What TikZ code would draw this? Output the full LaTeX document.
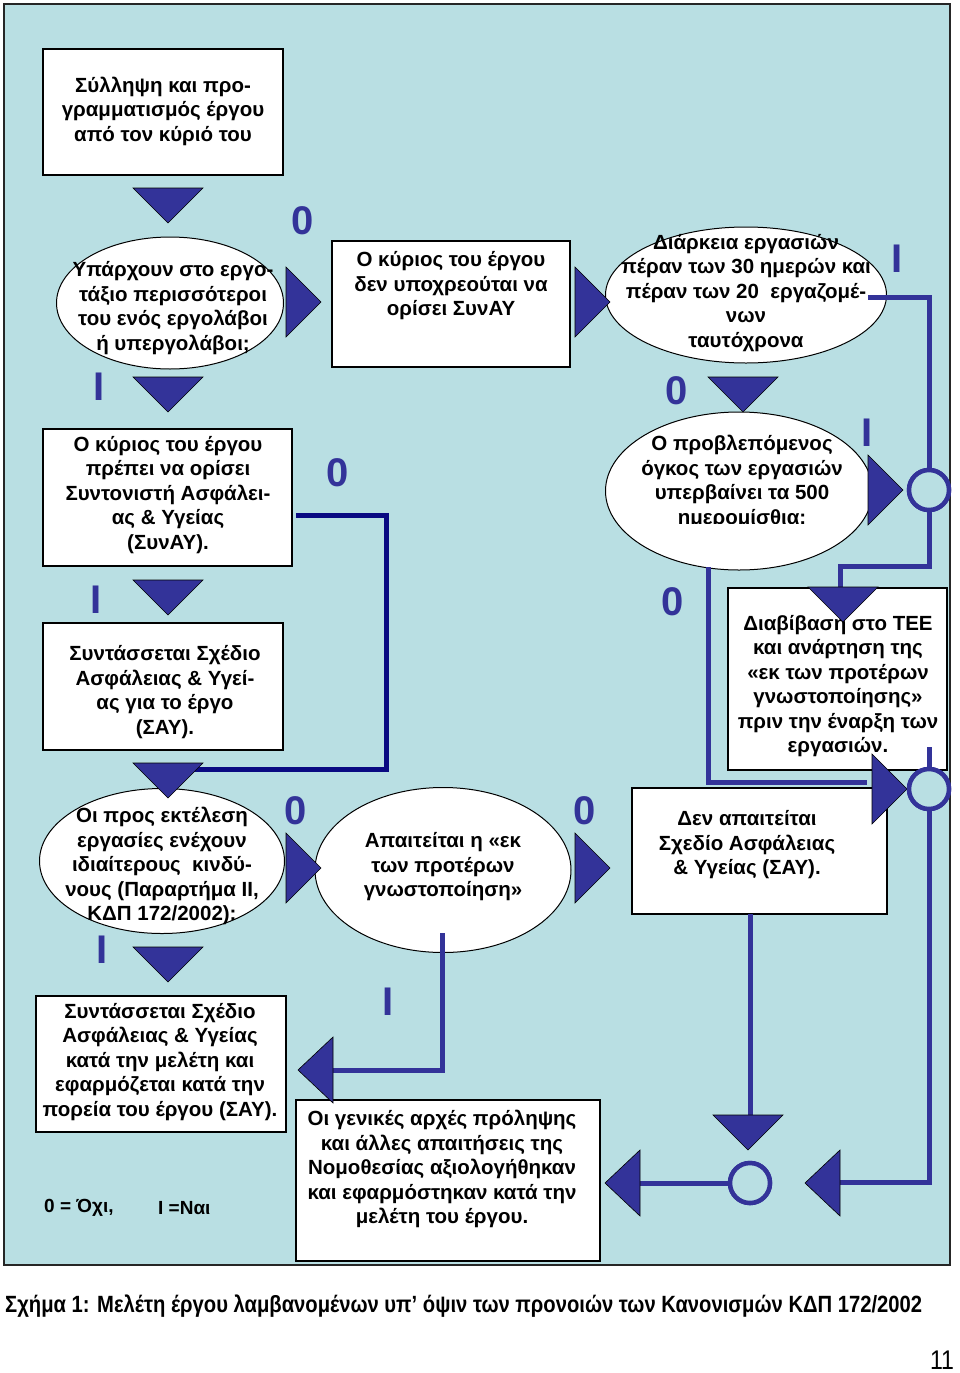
\documentclass[tikz,border=0pt]{standalone}
\usepackage{fontspec}
\setmainfont{Liberation Sans}
\usetikzlibrary{shapes.geometric}
\definecolor{bgc}{RGB}{185,223,227}
\definecolor{arr}{RGB}{51,51,153}
\definecolor{navyc}{RGB}{10,10,130}
\tikzset{
 box/.style={draw=black, line width=1.5pt, fill=white, inner sep=0pt},
 ell/.style={draw=black, line width=1pt, fill=white, ellipse, inner sep=0pt},
 txt/.style={align=center, font=\fontsize{20.5}{24.5}\selectfont\bfseries, inner sep=0pt},
 lab/.style={text=arr, font=\fontsize{40}{40}\selectfont\bfseries, inner sep=0pt},
 tri/.style={fill=arr, draw=black, line width=0.6pt, line join=miter},
 wire/.style={draw=arr, line width=5pt},
 navywire/.style={draw=navyc, line width=5pt},
 junc/.style={circle, draw=arr, line width=4.5pt, fill=bgc, minimum size=40pt, inner sep=0pt},
}
\newcommand\TriDown[2]{\draw[tri] (#1-35,#2) -- (#1+35,#2) -- (#1,#2+35) -- cycle;}
\newcommand\TriRight[2]{\draw[tri] (#1,#2-35) -- (#1,#2+35) -- (#1+35,#2) -- cycle;}
\newcommand\TriLeft[2]{\draw[tri] (#1,#2-33) -- (#1,#2+33) -- (#1-35,#2) -- cycle;}
\begin{document}
\begin{tikzpicture}[x=1pt,y=-1pt]
\useasboundingbox (0,0) rectangle (960,1373);
\fill[white] (0,0) rectangle (960,1373);
\draw[fill=bgc, draw=black!85, line width=1.5pt] (4,4) rectangle (950,1265);

% boxes
\node[box, minimum width=240pt, minimum height=126pt] (A) at (163,112) {};
\node[box, minimum width=238pt, minimum height=126pt] (C) at (451,304) {};
\node[box, minimum width=249pt, minimum height=137pt] (K) at (167.5,497.5) {};
\node[box, minimum width=240pt, minimum height=127pt] (L) at (163,686.5) {};
\node[box, minimum width=219pt, minimum height=182pt] (F) at (837.5,679) {};
\node[box, minimum width=255pt, minimum height=126pt] (G) at (759.5,851) {};
\node[box, minimum width=250pt, minimum height=136pt] (I) at (161,1064) {};
\node[box, minimum width=304pt, minimum height=161pt] (H) at (448,1180.5) {};
% ellipses
\node[ell, minimum width=227pt, minimum height=132pt] (B) at (170,303) {};
\node[ell, minimum width=281pt, minimum height=136pt] (D) at (746,295) {};
\node[ell, minimum width=267pt, minimum height=158pt] (E) at (739,491) {};
\node[ell, minimum width=245pt, minimum height=145pt] (M) at (162,861) {};
\node[ell, minimum width=256pt, minimum height=165pt] (J) at (443,870) {};

% texts
\node[txt] (At) at (163,111) {Σύλληψη και προ-\\γραμματισμός έργου\\από τον κύριό του};
\node[txt] (Bt) at (173,308) {Υπάρχουν στο εργο-\\τάξιο περισσότεροι\\του ενός εργολάβοι\\ή υπεργολάβοι;};
\node[txt] (Ct) at (451,286) {Ο κύριος του έργου\\δεν υποχρεούται να\\ορίσει ΣυνΑΥ};
\node[txt] (Dt) at (746,293) {Διάρκεια εργασιών\\πέραν των 30 ημερών και\\πέραν των 20 \ εργαζομέ-\\νων\\ταυτόχρονα};
\begin{scope}
\clip (600,400) rectangle (880,523);
\node[txt] (Et) at (742,482) {Ο προβλεπόμενος\\όγκος των εργασιών\\υπερβαίνει τα 500\\ημερομίσθια:};
\end{scope}
\node[txt] (Kt) at (168,495) {Ο κύριος του έργου\\πρέπει να ορίσει\\Συντονιστή Ασφάλει-\\ας \& Υγείας\\(ΣυνΑΥ).};
\node[txt] (Lt) at (165,692) {Συντάσσεται Σχέδιο\\Ασφάλειας \& Υγεί-\\ας για το έργο\\(ΣΑΥ).};
\node[txt] (Mt) at (162,866) {Οι προς εκτέλεση\\εργασίες ενέχουν\\ιδιαίτερους \ κινδύ-\\νους (Παραρτήμα ΙΙ,\\ΚΔΠ 172/2002):};
\node[txt] (Jt) at (443,867) {Απαιτείται η «εκ\\των προτέρων\\γνωστοποίηση»};
\node[txt] (Gt) at (747,845) {Δεν απαιτείται\\Σχεδίο Ασφάλειας\\\& Υγείας (ΣΑΥ).};
\node[txt] (Ft) at (838,686) {Διαβίβαση στο ΤΕΕ\\και ανάρτηση της\\«εκ των προτέρων\\γνωστοποίησης»\\πριν την έναρξη των\\εργασιών.};
\node[txt] (It) at (160,1062) {Συντάσσεται Σχέδιο\\Ασφάλειας \& Υγείας\\κατά την μελέτη και\\εφαρμόζεται κατά την\\πορεία του έργου (ΣΑΥ).};
\node[txt] (Ht) at (442,1169) {Οι γενικές αρχές πρόληψης\\και άλλες απαιτήσεις της\\Νομοθεσίας αξιολογήθηκαν\\και εφαρμόστηκαν κατά την\\μελέτη του έργου.};

% junctions
\node[junc] (c1) at (929,490) {};
\node[junc] (c2) at (929,789) {};
\node[junc] (c3) at (750,1183) {};

% connector coordinates
\coordinate (Dr) at (868,297);
\coordinate (Fk) at (840,566);
\coordinate (Ftop) at (840,590);
\coordinate (Eb) at (708,567);
\coordinate (Ein) at (867,782);
\coordinate (Fst) at (929,747);
\coordinate (Rb) at (840,1182);
\coordinate (Gb) at (750,914);
\coordinate (Gd) at (750,1116);
\coordinate (Lb) at (640,1183);
\coordinate (Jb) at (442,933);
\coordinate (Jl) at (333,1070);
\coordinate (Kr) at (296,515);
\coordinate (Kc) at (386,769);
\coordinate (Ke) at (188,769);

\draw[wire] (Dr) -| (c1.north);
\draw[wire] (c1.south) |- (Fk) -- (Ftop);
\draw[wire] (Eb) |- (Ein);
\draw[wire] (Fst) -- (c2.north);
\draw[wire] (c2.south) |- (Rb);
\draw[wire] (Gb) -- (Gd);
\draw[wire] (c3.west) -- (Lb);
\draw[wire] (Jb) |- (Jl);
\draw[navywire] (Kr) -| (Kc) -- (Ke);

% triangles
\TriDown{168}{188}
\TriRight{286}{302}
\TriRight{575}{302}
\TriDown{168}{377}
\TriDown{743}{377}
\TriRight{868}{490}
\TriDown{168}{580}
\TriDown{843}{587}
\TriDown{168}{763}
\TriRight{286}{868}
\TriRight{575}{868}
\TriDown{168}{947}
\TriRight{872}{789}
\TriLeft{333}{1070}
\TriDown{748}{1115}
\TriLeft{640}{1183}
\TriLeft{840}{1183}
\node[junc] (c1b) at (c1) {};
\node[junc] (c2b) at (c2) {};
\node[junc] (c3b) at (c3) {};

% labels
\node[lab] (l1) at (303,221) {0};
\node[lab] (l2) at (677,391) {0};
\node[lab] (l3) at (897,259) {I};
\node[lab] (l4) at (99,387) {I};
\node[lab] (l5) at (338,473) {0};
\node[lab] (l6) at (867,433) {I};
\node[lab] (l7) at (96,600) {I};
\node[lab] (l8) at (673,602) {0};
\node[lab] (l9) at (296,811) {0};
\node[lab] (l10) at (585,811) {0};
\node[lab] (l11) at (102,950) {I};
\node[lab] (l12) at (388,1002) {I};

% legend and caption
\node[txt, anchor=west, font=\fontsize{19}{22}\selectfont\bfseries] (leg1) at (44,1208) {0 = Όχι,};
\node[txt, anchor=west, font=\fontsize{19}{22}\selectfont\bfseries] (leg2) at (158,1208) {I =Ναι};
\node[anchor=west, inner sep=0pt, font=\fontsize{23.5}{26}\selectfont\bfseries] (cap) at (5,1306) {\resizebox{917pt}{\height}{Σχήμα 1: Μελέτη έργου λαμβανομένων υπ’ όψιν των προνοιών των Κανονισμών ΚΔΠ 172/2002}};
\node[inner sep=0pt, font=\fontsize{27}{30}\selectfont] (pg) at (942,1360) {\resizebox{24pt}{\height}{11}};
\end{tikzpicture}
\end{document}
